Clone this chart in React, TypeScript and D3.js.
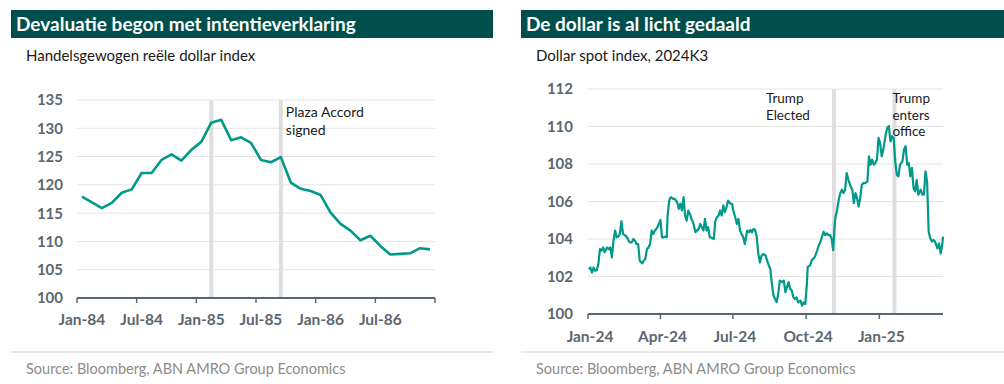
import React from "react";
import * as d3 from "d3";

// ---------- Left chart data ----------
const leftMonths = [
  "1984-01","1984-02","1984-03","1984-04","1984-05","1984-06","1984-07","1984-08","1984-09","1984-10","1984-11","1984-12",
  "1985-01","1985-02","1985-03","1985-04","1985-05","1985-06","1985-07","1985-08","1985-09","1985-10","1985-11","1985-12",
  "1986-01","1986-02","1986-03","1986-04","1986-05","1986-06","1986-07","1986-08","1986-09","1986-10","1986-11","1986-12",
];
const leftValues = [
  117.9, 116.9, 115.9, 116.8, 118.6, 119.2, 122.1, 122.1, 124.4, 125.4, 124.3, 126.2,
  127.6, 131.0, 131.5, 127.9, 128.4, 127.4, 124.4, 124.0, 124.9, 120.4, 119.3, 118.9,
  118.2, 115.1, 113.1, 111.9, 110.2, 111.0, 109.2, 107.7, 107.8, 107.9, 108.8, 108.6,
];
const leftTickMonths = ["1984-01", "1984-07", "1985-01", "1985-07", "1986-01", "1986-07"];
const leftTickLabels = ["Jan-84", "Jul-84", "Jan-85", "Jul-85", "Jan-86", "Jul-86"];
const leftYTicks = [100, 105, 110, 115, 120, 125, 130, 135];
const leftEvents = ["1985-02", "1985-09"];
const leftAnnotation = ["Plaza Accord", "signed"];

// ---------- Right chart data ----------
const rightDates = [
  "2024-01-02","2024-01-04","2024-01-06","2024-01-08","2024-01-10","2024-01-12","2024-01-14","2024-01-16","2024-01-18","2024-01-20",
  "2024-01-22","2024-01-25","2024-01-27","2024-01-29","2024-01-31","2024-02-02","2024-02-04","2024-02-06","2024-02-08","2024-02-10",
  "2024-02-12","2024-02-14","2024-02-17","2024-02-19","2024-02-21","2024-02-23","2024-02-25","2024-02-27","2024-02-29","2024-03-02",
  "2024-03-04","2024-03-06","2024-03-09","2024-03-11","2024-03-13","2024-03-15","2024-03-17","2024-03-19","2024-03-21","2024-03-23",
  "2024-03-25","2024-03-27","2024-03-29","2024-04-01","2024-04-03","2024-04-05","2024-04-07","2024-04-09","2024-04-10","2024-04-12",
  "2024-04-14","2024-04-17","2024-04-19","2024-04-22","2024-04-24","2024-04-26","2024-04-28","2024-04-30","2024-05-02","2024-05-04",
  "2024-05-06","2024-05-08","2024-05-10","2024-05-12","2024-05-15","2024-05-17","2024-05-19","2024-05-21","2024-05-23","2024-05-25",
  "2024-05-27","2024-05-29","2024-05-31","2024-06-02","2024-06-05","2024-06-07","2024-06-09","2024-06-11","2024-06-13","2024-06-15",
  "2024-06-17","2024-06-19","2024-06-21","2024-06-23","2024-06-25","2024-06-28","2024-06-30","2024-07-02","2024-07-04","2024-07-06",
  "2024-07-08","2024-07-10","2024-07-12","2024-07-14","2024-07-16","2024-07-19","2024-07-21","2024-07-23","2024-07-25","2024-07-27",
  "2024-07-29","2024-07-31","2024-08-02","2024-08-04","2024-08-06","2024-08-08","2024-08-11","2024-08-13","2024-08-15","2024-08-17",
  "2024-08-19","2024-08-21","2024-08-23","2024-08-25","2024-08-27","2024-08-29","2024-09-01","2024-09-03","2024-09-05","2024-09-07",
  "2024-09-09","2024-09-11","2024-09-13","2024-09-15","2024-09-17","2024-09-19","2024-09-21","2024-09-24","2024-09-26","2024-09-28",
  "2024-09-30","2024-10-02","2024-10-03","2024-10-06","2024-10-08","2024-10-10","2024-10-12","2024-10-15","2024-10-17","2024-10-19",
  "2024-10-21","2024-10-23","2024-10-25","2024-10-27","2024-10-29","2024-10-31","2024-11-02","2024-11-04","2024-11-06","2024-11-07",
  "2024-11-09","2024-11-11","2024-11-13","2024-11-15","2024-11-17","2024-11-19","2024-11-21","2024-11-23","2024-11-26","2024-11-28",
  "2024-11-30","2024-12-02","2024-12-04","2024-12-06","2024-12-08","2024-12-10","2024-12-12","2024-12-14","2024-12-17","2024-12-19",
  "2024-12-21","2024-12-23","2024-12-25","2024-12-27","2024-12-29","2024-12-31","2025-01-02","2025-01-04","2025-01-06","2025-01-09",
  "2025-01-11","2025-01-13","2025-01-15","2025-01-17","2025-01-19","2025-01-21","2025-01-23","2025-01-25","2025-01-27","2025-01-30",
  "2025-02-01","2025-02-03","2025-02-05","2025-02-07","2025-02-09","2025-02-11","2025-02-13","2025-02-15","2025-02-17","2025-02-19",
  "2025-02-22","2025-02-24","2025-02-26","2025-02-28","2025-03-02","2025-03-04","2025-03-06","2025-03-08","2025-03-10","2025-03-12",
  "2025-03-15","2025-03-17","2025-03-19","2025-03-21","2025-03-22",
];
const rightValues = [
  102.39, 102.48, 102.21, 102.48, 102.30, 102.34, 102.66, 103.46, 103.38, 103.55,
  103.29, 103.55, 103.46, 103.55, 103.02, 103.91, 104.45, 104.09, 104.13, 104.27,
  104.95, 104.27, 104.18, 104.09, 103.91, 103.82, 103.82, 104.00, 103.91, 103.73,
  103.73, 102.84, 102.70, 102.84, 102.93, 103.46, 103.55, 103.73, 104.45, 104.27,
  104.45, 104.54, 104.71, 105.02, 104.09, 104.09, 104.13, 104.09, 105.25, 106.05,
  106.23, 106.14, 106.14, 105.96, 105.61, 105.88, 105.52, 106.23, 105.25, 104.98,
  105.52, 105.34, 105.07, 104.89, 104.36, 104.45, 104.54, 104.80, 104.63, 104.45,
  105.07, 104.45, 104.63, 104.09, 104.05, 104.00, 104.98, 105.16, 105.25, 105.52,
  105.25, 105.79, 105.43, 105.70, 106.05, 105.88, 105.88, 105.43, 105.16, 104.80,
  105.07, 104.45, 104.27, 104.09, 103.73, 104.45, 104.36, 104.48, 104.36, 104.54,
  104.48, 104.09, 103.20, 102.75, 103.11, 103.20, 103.13, 102.86, 102.60, 102.41,
  101.61, 100.99, 100.80, 100.63, 101.07, 101.78, 101.70, 101.78, 101.16, 101.43,
  101.70, 101.34, 101.25, 100.89, 100.80, 100.89, 100.62, 100.71, 100.44, 100.62,
  100.53, 101.61, 102.50, 102.59, 102.86, 102.95, 103.04, 103.40, 103.67, 103.85,
  104.12, 104.39, 104.21, 104.30, 104.21, 104.21, 104.03, 103.40, 104.83, 105.19,
  105.55, 106.09, 106.45, 106.63, 106.45, 106.63, 107.52, 107.17, 106.81, 106.63,
  105.91, 106.45, 106.18, 105.73, 106.18, 106.89, 106.98, 106.98, 107.07, 108.41,
  107.96, 108.23, 107.96, 108.05, 108.23, 109.39, 109.13, 108.41, 108.77, 109.57,
  109.93, 110.02, 109.21, 109.48, 109.39, 108.14, 107.43, 107.34, 107.96, 108.14,
  108.77, 108.95, 107.96, 108.05, 107.34, 107.79, 106.71, 106.54, 107.16, 106.36,
  106.63, 106.36, 106.36, 107.61, 107.07, 104.39, 104.04, 103.86, 103.95, 103.86,
  103.50, 103.77, 103.23, 103.68, 104.13,
];
const rightTickDates = ["2024-01-01", "2024-04-01", "2024-07-01", "2024-10-01", "2025-01-01"];
const rightTickLabels = ["Jan-24", "Apr-24", "Jul-24", "Oct-24", "Jan-25"];
const rightYTicks = [100, 102, 104, 106, 108, 110, 112];
const rightEvents = ["2024-11-05", "2025-01-20"];
const rightAnnotations = [["Trump", "Elected"], ["Trump", "enters", "office"]];

const titles = ["Devaluatie begon met intentieverklaring", "De dollar is al licht gedaald"];
const subtitles = ["Handelsgewogen reële dollar index", "Dollar spot index, 2024K3"];
const sourceText = "Source:  Bloomberg, ABN AMRO Group Economics";

const HEADER = "#004f4c";
const LINE = "#00998a";
const AXIS = "#5b6770";
const GRID = "#e4e4e4";
const EVENT = "#dedede";
const FONT = "Lato, 'Noto Sans', sans-serif";

const parseDay = d3.timeParse("%Y-%m-%d");

function LeftChart() {
  const x = d3.scaleBand<string>().domain(leftMonths).range([77, 435]).padding(0);
  const y = d3.scaleLinear().domain([100, 135]).range([298, 100]);
  const cx = (m: string) => (x(m) as number) + x.bandwidth() / 2;
  const line = d3
    .line<number>()
    .x((_, i) => cx(leftMonths[i]))
    .y((v) => y(v));
  const boundaries = d3.range(0, leftMonths.length + 1, 6).map((i) =>
    i < leftMonths.length ? (x(leftMonths[i]) as number) : x.range()[1]
  );
  return (
    <g>
      {leftYTicks.map((t) => (
        <g key={t}>
          {t > 100 && <line x1={77} x2={435} y1={y(t)} y2={y(t)} stroke={GRID} strokeWidth={1} />}
          <text x={63} y={y(t)} dy="0.36em" textAnchor="end" fontFamily={FONT} fontWeight={700} fontSize={15} fill={AXIS}>
            {t}
          </text>
        </g>
      ))}
      {leftEvents.map((e) => (
        <rect key={e} x={cx(e) - 2} y={y(135)} width={4} height={y(100) - y(135)} fill={EVENT} />
      ))}
      <path d={line(leftValues) || ""} fill="none" stroke={LINE} strokeWidth={2.6} strokeLinejoin="round" />
      <line x1={77} x2={435} y1={y(100)} y2={y(100)} stroke={AXIS} strokeWidth={2} />
      {boundaries.map((bx, i) => (
        <line key={i} x1={bx} x2={bx} y1={y(100)} y2={y(100) + 5} stroke={AXIS} strokeWidth={1.5} />
      ))}
      {leftTickMonths.map((m, i) => (
        <text key={m} x={cx(m)} y={y(100) + 27} textAnchor="middle" fontFamily={FONT} fontWeight={700} fontSize={15.5} fill={AXIS}>
          {leftTickLabels[i]}
        </text>
      ))}
      <text x={cx(leftEvents[1]) + 5} y={117} fontFamily={FONT} fontSize={14} fill="#1a1a1a">
        {leftAnnotation.map((s, i) => (
          <tspan key={i} x={cx(leftEvents[1]) + 5} dy={i === 0 ? 0 : 18}>
            {s}
          </tspan>
        ))}
      </text>
    </g>
  );
}

function RightChart() {
  const dates = rightDates.map((d) => parseDay(d) as Date);
  const x = d3
    .scaleTime()
    .domain([parseDay("2024-01-01") as Date, dates[dates.length - 1]])
    .range([588, 943]);
  const y = d3.scaleLinear().domain([100, 112]).range([314, 89]);
  const line = d3
    .line<number>()
    .x((_, i) => x(dates[i]))
    .y((v) => y(v));
  return (
    <g>
      {rightYTicks.map((t) => (
        <g key={t}>
          {t > 100 && <line x1={588} x2={943} y1={y(t)} y2={y(t)} stroke={GRID} strokeWidth={1} />}
          <text x={573} y={y(t)} dy="0.36em" textAnchor="end" fontFamily={FONT} fontWeight={700} fontSize={15} fill={AXIS}>
            {t}
          </text>
        </g>
      ))}
      {rightEvents.map((e) => {
        const ex = x(parseDay(e) as Date);
        return <rect key={e} x={ex - 2} y={y(112)} width={4} height={y(100) - y(112)} fill={EVENT} />;
      })}
      <path d={line(rightValues) || ""} fill="none" stroke={LINE} strokeWidth={2.2} strokeLinejoin="round" />
      <line x1={588} x2={943} y1={y(100)} y2={y(100)} stroke={AXIS} strokeWidth={2} />
      {rightTickDates.map((d, i) => {
        const tx = x(parseDay(d) as Date);
        return (
          <g key={d}>
            <line x1={tx} x2={tx} y1={y(100)} y2={y(100) + 5} stroke={AXIS} strokeWidth={1.5} />
            <text x={tx + 2} y={y(100) + 28} textAnchor="middle" fontFamily={FONT} fontWeight={700} fontSize={15.5} fill={AXIS}>
              {rightTickLabels[i]}
            </text>
          </g>
        );
      })}
      {rightAnnotations.map((lines, k) => {
        const ex = x(parseDay(rightEvents[k]) as Date);
        const ax = k === 0 ? ex - 68 : ex - 2;
        return (
          <text key={k} x={ax} y={103} fontFamily={FONT} fontSize={13.5} fill="#1a1a1a">
            {lines.map((s, i) => (
              <tspan key={i} x={ax} dy={i === 0 ? 0 : 16.5}>
                {s}
              </tspan>
            ))}
          </text>
        );
      })}
    </g>
  );
}

function Panel({ x0, x1, idx }: { x0: number; x1: number; idx: number }) {
  return (
    <g>
      <rect x={x0} y={10} width={x1 - x0} height={28} fill={HEADER} />
      <text x={x0 + 5} y={30.5} fontFamily={FONT} fontWeight={700} fontSize={19} fill="#ffffff">
        {titles[idx]}
      </text>
      <text x={x0 + 15} y={61} fontFamily={FONT} fontSize={15} fill="#1a1a1a">
        {subtitles[idx]}
      </text>
      <line x1={x0} x2={x1} y1={352} y2={352} stroke="#cfcfcf" strokeWidth={1} />
      <text x={x0 + 15} y={374} fontFamily={FONT} fontSize={14.5} fill="#8c8c8c">
        {sourceText}
      </text>
    </g>
  );
}

export default function App() {
  return (
    <svg
      width={1004}
      height={384}
      style={{ position: "absolute", left: 0, top: 0, background: "#ffffff" }}
    >
      <Panel x0={11} x1={493} idx={0} />
      <Panel x0={521} x1={1004} idx={1} />
      <LeftChart />
      <RightChart />
    </svg>
  );
}
